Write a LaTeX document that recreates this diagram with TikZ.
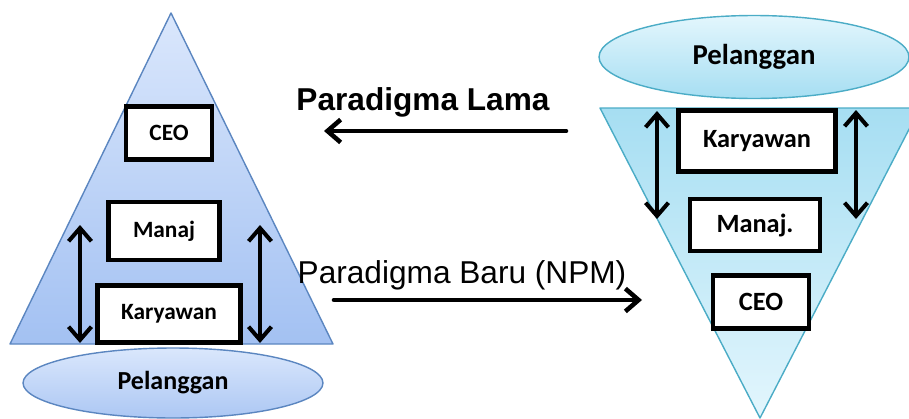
\documentclass[tikz,border=0pt]{standalone}
\usepackage{fontspec}
\setmainfont{Liberation Sans}
\newfontfamily\boxfont{Carlito}
\usetikzlibrary{arrows.meta, positioning, shapes.geometric}

\definecolor{oldtop}{HTML}{DAE7FC}
\definecolor{oldbot}{HTML}{A3C1F2}
\definecolor{oldline}{HTML}{5B86C0}
\definecolor{newtop}{HTML}{A6DEF2}
\definecolor{newbot}{HTML}{E3F6FD}
\definecolor{newline}{HTML}{4BACC6}

\tikzset{
  box/.style={draw=black, line width=2.4pt, fill=white, inner sep=0pt, font=\boxfont\bfseries},
  dbl/.style={{Straight Barb[length=7.5pt,width=13pt]}-{Straight Barb[length=7.5pt,width=13pt]}, line width=2.3pt, line cap=round},
  flow/.style={-{Straight Barb[length=7.5pt,width=13pt]}, line width=2.6pt, line cap=round},
  pel/.style={ellipse, draw, line width=0.8pt, inner sep=0pt, font=\boxfont\bfseries}
}

\begin{document}
\begin{tikzpicture}[x=0.02cm, y=-0.02cm]
\useasboundingbox (0,0) rectangle (909,419);

% paradigma lama (kiri)
\coordinate (la) at (171,13);
\coordinate (lb) at (10,344);
\coordinate (lc) at (333,344);
\shade[top color=oldtop, bottom color=oldbot] (la) -- (lb) -- (lc) -- cycle;
\draw[oldline, line width=0.8pt, line join=round] (la) -- (lb) -- (lc) -- cycle;

\node[pel, draw=oldline, top color=oldtop, bottom color=oldbot!90,
  minimum width=6cm, minimum height=1.4cm, font=\boxfont\bfseries\fontsize{14.8}{16}\selectfont]
  (lpel) at (173,383) {Pelanggan};

\node[box, minimum width=1.72cm, minimum height=1.06cm, font=\boxfont\bfseries\fontsize{13.3}{15}\selectfont]
  (lceo) at (169,133) {CEO};
\node[box, minimum width=2.22cm, minimum height=1.16cm, font=\boxfont\bfseries\fontsize{13.3}{15}\selectfont]
  (lmanaj) at (164,231) {Manaj};
\node[box, minimum width=2.86cm, minimum height=1.14cm, font=\boxfont\bfseries\fontsize{13.3}{15}\selectfont]
  (lkary) at (169,314) {Karyawan};

\coordinate (l1a) at (80,225);
\coordinate (l1b) at (80,343);
\coordinate (l2a) at (260,225);
\coordinate (l2b) at (260,343);
\draw[dbl] (l1a) -- (l1b);
\draw[dbl] (l2a) -- (l2b);

% paradigma baru (kanan)
\coordinate (ra) at (600,108);
\coordinate (rb) at (920,108);
\coordinate (rc) at (760,418);
\shade[top color=newtop, bottom color=newbot] (ra) -- (rb) -- (rc) -- cycle;
\draw[newline, line width=0.8pt, line join=round] (ra) -- (rb) -- (rc) -- cycle;

\node[pel, draw=newline, top color=newbot, bottom color=newtop,
  minimum width=6.2cm, minimum height=1.66cm, font=\boxfont\bfseries\fontsize{16.4}{18}\selectfont]
  (rpel) at (754,57) {Pelanggan};

\node[box, minimum width=3.14cm, minimum height=1.22cm, font=\boxfont\bfseries\fontsize{15}{17}\selectfont]
  (rkary) at (757,141) {Karyawan};
\node[box, minimum width=2.6cm, minimum height=1.04cm, font=\boxfont\bfseries\fontsize{15}{17}\selectfont]
  (rmanaj) at (755,225) {Manaj.};
\node[box, minimum width=1.92cm, minimum height=1.06cm, font=\boxfont\bfseries\fontsize{15}{17}\selectfont]
  (rceo) at (761,302) {CEO};

\coordinate (r1a) at (657,111);
\coordinate (r1b) at (657,219);
\coordinate (r2a) at (856,110);
\coordinate (r2b) at (856,219);
\draw[dbl] (r1a) -- (r1b);
\draw[dbl] (r2a) -- (r2b);

% panah tengah
\node[anchor=base, font=\bfseries\fontsize{18}{20}\selectfont] (lama) at (423,110) {Paradigma Lama};
\coordinate (lamaS) at (566,131);
\coordinate (lamaE) at (324,131);
\draw[flow] (lamaS) -- (lamaE);

\node[anchor=base, font=\fontsize{18}{20}\selectfont] (baru) at (462,283) {Paradigma Baru (NPM)};
\coordinate (baruS) at (334,300);
\coordinate (baruE) at (642,300);
\draw[flow] (baruS) -- (baruE);
\end{tikzpicture}
\end{document}
